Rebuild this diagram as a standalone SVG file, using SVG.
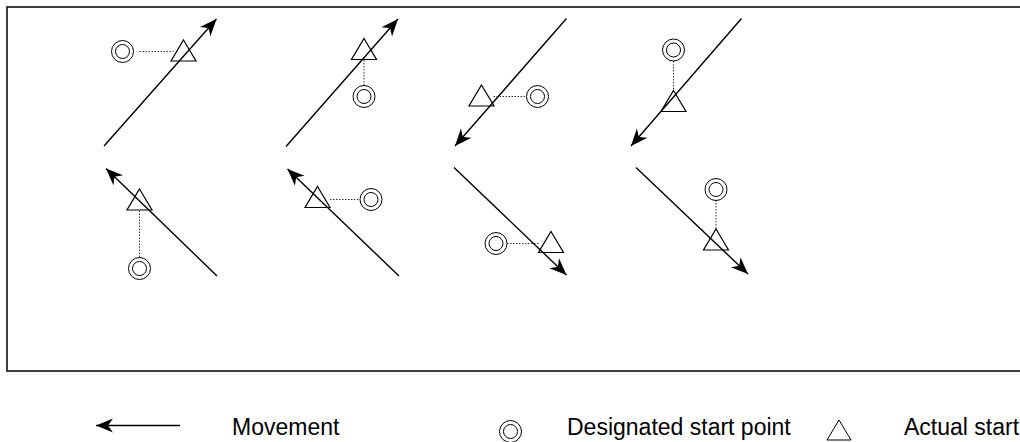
<svg xmlns="http://www.w3.org/2000/svg" width="1020" height="442" viewBox="0 0 1020 442">
<defs>
<marker id="ah" markerUnits="userSpaceOnUse" markerWidth="22" markerHeight="18" viewBox="-19 -9 21 18" refX="0" refY="0" orient="auto">
<path d="M0,0 L-17,-7 L-12,0 L-17,7 Z" fill="#000"/>
</marker>
<g id="dsp">
<circle r="11" fill="none" stroke="#000" stroke-width="1"/>
<circle r="7" fill="none" stroke="#000" stroke-width="1"/>
</g>
<path id="tri" d="M0,-10.5 L12.5,10.5 L-12.5,10.5 Z" fill="none" stroke="#000" stroke-width="1.2"/>
</defs>
<style>
.mv{stroke:#000;stroke-width:1.4;fill:none;marker-end:url(#ah)}
.dot{stroke:#333;stroke-width:1;stroke-dasharray:1.5 1.5;fill:none}
.lbl{font-family:"Liberation Sans",Arial,sans-serif;font-size:23px;fill:#000}
</style>
<rect x="7" y="7" width="1030" height="364" fill="#fff" stroke="#111" stroke-width="1.6"/>
<g id="connectors">
<line class="mv" x1="104" y1="146" x2="216.5" y2="19"/>
<line class="mv" x1="286" y1="146.5" x2="398" y2="19"/>
<line class="mv" x1="566.5" y1="18.5" x2="455" y2="146"/>
<line class="mv" x1="741.5" y1="18.5" x2="631" y2="146"/>
<line class="mv" x1="217" y1="276" x2="106" y2="168.5"/>
<line class="mv" x1="399" y1="276" x2="287.5" y2="169"/>
<line class="mv" x1="454" y1="167.5" x2="566.5" y2="275"/>
<line class="mv" x1="636" y1="167.5" x2="748" y2="274"/>
<line class="dot" x1="139.5" y1="51.5" x2="173.5" y2="51.5"/>
<line class="dot" x1="364" y1="60" x2="364" y2="85"/>
<line class="dot" x1="493.5" y1="96.5" x2="526" y2="96.5"/>
<line class="dot" x1="673.5" y1="61" x2="673.5" y2="90"/>
<line class="dot" x1="139.5" y1="210.5" x2="139.5" y2="257"/>
<line class="dot" x1="330" y1="199.5" x2="359.5" y2="199.5"/>
<line class="dot" x1="507" y1="243.5" x2="538.5" y2="243.5"/>
<line class="dot" x1="716" y1="200" x2="716" y2="229"/>
</g>
<g id="p1"><use href="#dsp" x="122.5" y="51.5"/><use href="#tri" x="183.5" y="50.5"/></g>
<g id="p2"><use href="#dsp" x="364" y="96.5"/><use href="#tri" x="364" y="49"/></g>
<g id="p3"><use href="#dsp" x="537.5" y="96.5"/><use href="#tri" x="481.5" y="95.5"/></g>
<g id="p4"><use href="#dsp" x="673.5" y="50"/><use href="#tri" x="673.5" y="101"/></g>
<g id="p5"><use href="#dsp" x="139.5" y="268.5"/><use href="#tri" x="139.5" y="199.5"/></g>
<g id="p6"><use href="#dsp" x="371" y="199.5"/><use href="#tri" x="317.5" y="197"/></g>
<g id="p7"><use href="#dsp" x="496" y="243.5"/><use href="#tri" x="551" y="242"/></g>
<g id="p8"><use href="#dsp" x="716" y="189.5"/><use href="#tri" x="716" y="239.5"/></g>
<g id="legend-movement">
<line class="mv" x1="180" y1="425.5" x2="96" y2="425.5"/>
<text class="lbl" x="232" y="435">Movement</text>
</g>
<g id="legend-designated">
<use href="#dsp" x="510.5" y="431.5"/>
<text class="lbl" x="567" y="435">Designated start point</text>
</g>
<g id="legend-actual">
<path d="M839,420 L851,440 L827,440 Z" fill="none" stroke="#000" stroke-width="1"/>
<text class="lbl" x="904" y="435">Actual start</text>
</g>
</svg>
